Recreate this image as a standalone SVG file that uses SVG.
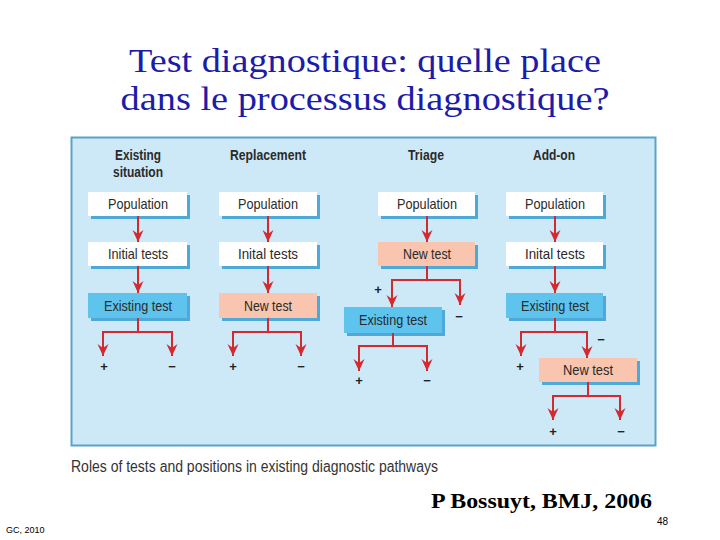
<svg xmlns="http://www.w3.org/2000/svg" width="720" height="540" viewBox="0 0 720 540">
<style>
.title{font-family:"Liberation Serif","Times New Roman",serif;font-size:33px;fill:#1c1ca8}
.hdr{font-family:"Liberation Sans",Arial,sans-serif;font-size:15px;font-weight:bold;fill:#2a2a2a;text-anchor:middle}
.lbl{font-family:"Liberation Sans",Arial,sans-serif;font-size:15px;fill:#2a2a2a;text-anchor:middle}
.sign{font-family:"Liberation Sans",Arial,sans-serif;font-size:13px;font-weight:bold;fill:#222;text-anchor:middle}
.shadow{fill:#4fa9d8}
.white{fill:#ffffff}
.blue{fill:#5ec4ee}
.pink{fill:#f9c5ae}
.ln{stroke:#d42a2f;stroke-width:2;fill:none}
.ar{stroke:#d42a2f;stroke-width:2;fill:none;marker-end:url(#ah)}
</style>
<defs>
<marker id="ah" markerUnits="userSpaceOnUse" markerWidth="12" markerHeight="12" viewBox="0 0 12 12" refX="12" refY="6" orient="auto">
<path d="M0,0.5 L12,6 L0,11.5 L4,6 z" fill="#d42a2f"/>
</marker>
</defs>
<rect width="720" height="540" fill="#ffffff"/>
<text class="title" x="365" y="72" text-anchor="middle" textLength="472" lengthAdjust="spacingAndGlyphs">Test diagnostique: quelle place</text>
<text class="title" x="365" y="110" text-anchor="middle" textLength="489" lengthAdjust="spacingAndGlyphs">dans le processus diagnostique?</text>

<rect id="panel" x="71.5" y="137.5" width="584" height="308" fill="#cde9f7" stroke="#5aa3c8" stroke-width="2"/>

<g id="headers">
<text class="hdr" x="138" y="160" textLength="46" lengthAdjust="spacingAndGlyphs">Existing</text>
<text class="hdr" x="138" y="177" textLength="50" lengthAdjust="spacingAndGlyphs">situation</text>
<text class="hdr" x="268" y="160" textLength="76" lengthAdjust="spacingAndGlyphs">Replacement</text>
<text class="hdr" x="426" y="160" textLength="36" lengthAdjust="spacingAndGlyphs">Triage</text>
<text class="hdr" x="554" y="160" textLength="42" lengthAdjust="spacingAndGlyphs">Add-on</text>
</g>

<g id="c1-pop"><rect class="shadow" x="91" y="195" width="99" height="24"/><rect class="white" x="88" y="192" width="99" height="24"/><text class="lbl" x="138" y="209" textLength="60" lengthAdjust="spacingAndGlyphs">Population</text></g>
<g id="c1-init"><rect class="shadow" x="91" y="245" width="99" height="24"/><rect class="white" x="88" y="242" width="99" height="24"/><text class="lbl" x="138" y="259" textLength="60" lengthAdjust="spacingAndGlyphs">Initial tests</text></g>
<g id="c1-exist"><rect class="shadow" x="91" y="296" width="99" height="25"/><rect class="blue" x="88" y="293" width="99" height="25"/><text class="lbl" x="138" y="311" textLength="68" lengthAdjust="spacingAndGlyphs">Existing test</text></g>

<g id="c2-pop"><rect class="shadow" x="222" y="195" width="98" height="24"/><rect class="white" x="219" y="192" width="98" height="24"/><text class="lbl" x="268" y="209" textLength="60" lengthAdjust="spacingAndGlyphs">Population</text></g>
<g id="c2-init"><rect class="shadow" x="222" y="245" width="98" height="24"/><rect class="white" x="219" y="242" width="98" height="24"/><text class="lbl" x="268" y="259" textLength="60" lengthAdjust="spacingAndGlyphs">Inital tests</text></g>
<g id="c2-new"><rect class="shadow" x="222" y="296" width="98" height="25"/><rect class="pink" x="219" y="293" width="98" height="25"/><text class="lbl" x="268" y="311" textLength="48" lengthAdjust="spacingAndGlyphs">New test</text></g>

<g id="c3-pop"><rect class="shadow" x="381" y="195" width="97" height="24"/><rect class="white" x="378" y="192" width="97" height="24"/><text class="lbl" x="427" y="209" textLength="60" lengthAdjust="spacingAndGlyphs">Population</text></g>
<g id="c3-new"><rect class="shadow" x="381" y="245" width="97" height="24"/><rect class="pink" x="378" y="242" width="97" height="24"/><text class="lbl" x="427" y="259" textLength="48" lengthAdjust="spacingAndGlyphs">New test</text></g>
<g id="c3-exist"><rect class="shadow" x="347" y="310" width="98" height="26"/><rect class="blue" x="344" y="307" width="98" height="26"/><text class="lbl" x="393" y="325" textLength="68" lengthAdjust="spacingAndGlyphs">Existing test</text></g>

<g id="c4-pop"><rect class="shadow" x="509" y="195" width="97" height="24"/><rect class="white" x="506" y="192" width="97" height="24"/><text class="lbl" x="555" y="209" textLength="60" lengthAdjust="spacingAndGlyphs">Population</text></g>
<g id="c4-init"><rect class="shadow" x="509" y="245" width="97" height="24"/><rect class="white" x="506" y="242" width="97" height="24"/><text class="lbl" x="555" y="259" textLength="60" lengthAdjust="spacingAndGlyphs">Inital tests</text></g>
<g id="c4-exist"><rect class="shadow" x="509" y="296" width="97" height="25"/><rect class="blue" x="506" y="293" width="97" height="25"/><text class="lbl" x="555" y="311" textLength="68" lengthAdjust="spacingAndGlyphs">Existing test</text></g>
<g id="c4-new"><rect class="shadow" x="542" y="361" width="98" height="24"/><rect class="pink" x="539" y="358" width="98" height="24"/><text class="lbl" x="588" y="375" textLength="50" lengthAdjust="spacingAndGlyphs">New test</text></g>

<g id="connectors">
<path class="ar" d="M138,216 V242"/>
<path class="ar" d="M138,266 V293"/>
<path class="ln" d="M138,318 V332 M103,332 H172"/>
<path class="ar" d="M103,331 V356"/>
<path class="ar" d="M172,331 V356"/>

<path class="ar" d="M268,216 V242"/>
<path class="ar" d="M268,266 V293"/>
<path class="ln" d="M268,318 V332 M233,332 H301"/>
<path class="ar" d="M233,331 V356"/>
<path class="ar" d="M301,331 V356"/>

<path class="ar" d="M427,216 V242"/>
<path class="ln" d="M427,266 V280 M392,280 H460"/>
<path class="ar" d="M392,279 V307"/>
<path class="ar" d="M460,279 V305"/>
<path class="ln" d="M393,333 V346 M359,346 H427"/>
<path class="ar" d="M359,345 V371"/>
<path class="ar" d="M427,345 V371"/>

<path class="ar" d="M555,216 V242"/>
<path class="ar" d="M555,266 V293"/>
<path class="ln" d="M555,318 V332 M521,332 H587"/>
<path class="ar" d="M521,331 V356"/>
<path class="ar" d="M587,331 V358"/>
<path class="ln" d="M588,382 V396 M553,396 H620"/>
<path class="ar" d="M553,395 V420"/>
<path class="ar" d="M620,395 V420"/>
</g>

<g id="signs">
<text class="sign" x="104" y="371">+</text><text class="sign" x="172" y="371">−</text>
<text class="sign" x="233" y="371">+</text><text class="sign" x="301" y="371">−</text>
<text class="sign" x="378" y="294">+</text><text class="sign" x="459" y="321">−</text>
<text class="sign" x="359" y="385">+</text><text class="sign" x="427" y="385">−</text>
<text class="sign" x="520" y="371">+</text><text class="sign" x="601" y="344">−</text>
<text class="sign" x="553" y="436">+</text><text class="sign" x="621" y="436">−</text>
</g>

<text x="71" y="472" font-family="'Liberation Sans',Arial,sans-serif" font-size="16" fill="#333" textLength="367" lengthAdjust="spacingAndGlyphs">Roles of tests and positions in existing diagnostic pathways</text>
<text x="431" y="508" font-family="'Liberation Serif','Times New Roman',serif" font-size="21" font-weight="bold" fill="#000" textLength="221" lengthAdjust="spacingAndGlyphs">P Bossuyt, BMJ, 2006</text>
<text x="657" y="525" font-family="'Liberation Sans',Arial,sans-serif" font-size="10" fill="#000">48</text>
<text x="6" y="533" font-family="'Liberation Sans',Arial,sans-serif" font-size="9" fill="#000">GC, 2010</text>
</svg>
